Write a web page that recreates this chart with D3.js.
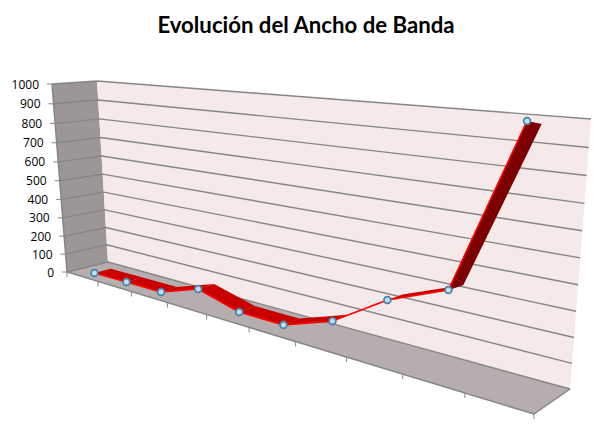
<!DOCTYPE html>
<html>
<head>
<meta charset="utf-8">
<script src="https://cdn.jsdelivr.net/npm/d3@7"></script>
<style>
html, body { margin: 0; padding: 0; background: #fff; }
text { font-family: Lato, sans-serif; }
</style>
</head>
<body>
<div id="chart"></div>
<script>
var categories = ["1", "2", "3", "4", "5", "6", "7", "8", "9", "10"];
var values = [3, 5, 6, 75, 20, 20, 97, 241, 333, 963];
var title = "Evolución del Ancho de Banda";

var width = 603, height = 438;

// corners of the 3-d box on screen
var floorQuad = [[67, 272], [534, 414], [570, 389], [108, 262]];
var topQuad = [[52, 84], [555, 109], [591, 119], [97, 81]];

function mix(a, b, t) { return [a[0] + (b[0] - a[0]) * t, a[1] + (b[1] - a[1]) * t]; }
function quadAt(q, u, w) { return mix(mix(q[0], q[1], u), mix(q[3], q[2], u), w); }
// foreshortening
function persp(t, k) { return t / (k - (k - 1) * t); }

var x = d3.scaleBand().domain(categories).range([0, 1]);
var y = d3.scaleLinear().domain([0, 1000]).range([0, 1]);

// u along the categories, v up the value axis, w into the depth
function project(u, v, w) {
    var pu = persp(u, 1.564), t = persp(v, 1.06);
    return mix(quadAt(floorQuad, pu, w), quadAt(topQuad, pu, w), t);
}

var line = d3.line();
function poly(points) { return line(points) + "Z"; }

var svg = d3.select("#chart").append("svg").attr("width", width).attr("height", height);

svg.append("text").attr("x", 306).attr("y", 32.5).attr("text-anchor", "middle")
    .attr("font-size", 22.2).attr("font-weight", "bold").attr("fill", "#000").text(title);

// walls
svg.append("path").attr("fill", "#9c9696")
    .attr("d", poly([project(0, 0, 0), project(0, 1, 0), project(0, 1, 1), project(0, 0, 1)]));
svg.append("path").attr("fill", "#f5e9e9")
    .attr("d", poly([project(0, 0, 1), project(0, 1, 1), project(1, 1, 1), project(1, 0, 1)]));
svg.append("path").attr("fill", "#b6aeae")
    .attr("d", poly([project(0, 0, 0), project(1, 0, 0), project(1, 0, 1), project(0, 0, 1)]));

// gridlines and value labels
var yTicks = y.ticks(10);
yTicks.forEach(function(d) {
    var v = y(d);
    svg.append("path").attr("fill", "none").attr("stroke", "#868686").attr("stroke-width", 1.4)
        .attr("d", line([project(0, v, 0), project(0, v, 1), project(1, v, 1)]));
    var p = project(0, v, 0);
    svg.append("path").attr("stroke", "#868686").attr("d", line([[p[0] - 5, p[1]], p]));
    svg.append("text").attr("x", p[0] - 13).attr("y", p[1] + 4.5)
        .attr("text-anchor", "end").attr("font-size", 12).attr("fill", "#000")
        .style("font-family", "'Open Sans', sans-serif").text(d);
});

// edges of the floor and the left wall
svg.append("path").attr("fill", "none").attr("stroke", "#868686").attr("stroke-width", 1.5)
    .attr("d", line([project(0, 1, 0), project(0, 0, 0), project(1, 0, 0), project(1, 0, 1)]));

// category ticks
categories.concat(["end"]).forEach(function(c, i) {
    var p = project(i / categories.length, 0, 0);
    svg.append("path").attr("stroke", "#868686").attr("d", line([p, [p[0], p[1] + 5]]));
});

// ribbon
var front = 0.3, back = 0.7;
function colorFor(a, b) {
    var s = (b - a);
    if (s > 300) return "#7c0000";
    return "#c80000";
}
values.forEach(function(d, i) {
    if (i == values.length - 1) return;
    var u0 = x(categories[i]) + x.bandwidth() / 2, u1 = x(categories[i + 1]) + x.bandwidth() / 2;
    var v0 = y(d), v1 = y(values[i + 1]);
    svg.append("path").attr("fill", colorFor(d, values[i + 1]))
        .attr("d", poly([project(u0, v0, front), project(u1, v1, front), project(u1, v1, back), project(u0, v0, back)]));
    svg.append("path").attr("fill", "none").attr("stroke", "#ff0000").attr("stroke-width", 1.6)
        .attr("d", line([project(u0, v0, front), project(u1, v1, front)]));
});

// markers
values.forEach(function(d, i) {
    var p = project(x(categories[i]) + x.bandwidth() / 2, y(d), front);
    svg.append("circle").attr("cx", p[0]).attr("cy", p[1]).attr("r", 3.4)
        .attr("fill", "#b9e3f2").attr("stroke", "#4f81a8").attr("stroke-width", 1.8);
});
</script>
</body>
</html>
